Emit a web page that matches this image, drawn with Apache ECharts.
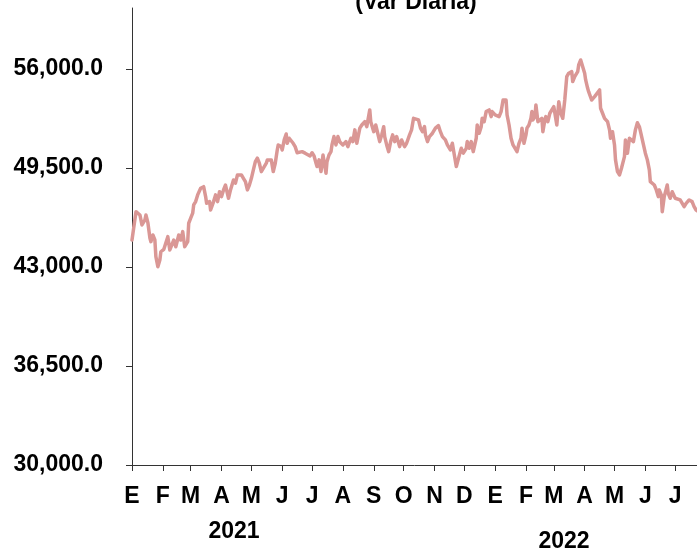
<!DOCTYPE html>
<html>
<head>
<meta charset="utf-8">
<script src="https://cdn.jsdelivr.net/npm/echarts@6/dist/echarts.min.js"></script>
<style>
html,body{margin:0;padding:0;background:#fff;}
#chart{width:697px;height:552px;}
</style>
</head>
<body>
<div id="chart"></div>
<script>
// ---- data ----
var title = '(Var Diaria)';
var monthLetters = ['E','F','M','A','M','J','J','A','S','O','N','D'];
var yTicks = [30000, 36500, 43000, 49500, 56000];
var yearLabels = ['2021', '2022'];

var dates2021 = [
 '2021-01-01','2021-01-05','2021-01-07','2021-01-09','2021-01-11','2021-01-14','2021-01-15','2021-01-17','2021-01-19','2021-01-20','2021-01-22','2021-01-24','2021-01-25','2021-01-27','2021-01-29','2021-01-30',
 '2021-02-02','2021-02-04','2021-02-06','2021-02-08','2021-02-10','2021-02-12','2021-02-14','2021-02-17','2021-02-19','2021-02-21','2021-02-23','2021-02-26','2021-02-27',
 '2021-03-01','2021-03-03','2021-03-04','2021-03-06','2021-03-08','2021-03-11','2021-03-14','2021-03-16','2021-03-17','2021-03-20','2021-03-21','2021-03-24','2021-03-26','2021-03-28','2021-03-30',
 '2021-04-01','2021-04-03','2021-04-05','2021-04-08','2021-04-10','2021-04-13','2021-04-15','2021-04-17','2021-04-19','2021-04-21','2021-04-23','2021-04-25','2021-04-27','2021-04-29',
 '2021-05-01','2021-05-03','2021-05-05','2021-05-07','2021-05-09','2021-05-11','2021-05-13','2021-05-16','2021-05-17','2021-05-19','2021-05-21','2021-05-23','2021-05-25','2021-05-27','2021-05-28','2021-05-31',
 '2021-06-01','2021-06-03','2021-06-05','2021-06-06','2021-06-08','2021-06-10','2021-06-12','2021-06-14','2021-06-16','2021-06-18','2021-06-21','2021-06-24','2021-06-26','2021-06-29',
 '2021-07-01','2021-07-03','2021-07-05','2021-07-06','2021-07-08','2021-07-10','2021-07-12','2021-07-15','2021-07-16','2021-07-18','2021-07-20','2021-07-21','2021-07-23','2021-07-25','2021-07-27','2021-07-29',
 '2021-08-01','2021-08-04','2021-08-06','2021-08-09','2021-08-11','2021-08-13','2021-08-15','2021-08-18','2021-08-20','2021-08-23','2021-08-25','2021-08-28','2021-08-29',
 '2021-09-01','2021-09-03','2021-09-05','2021-09-07','2021-09-09','2021-09-11','2021-09-12','2021-09-14','2021-09-16','2021-09-18','2021-09-20','2021-09-22','2021-09-24','2021-09-27','2021-09-29',
 '2021-10-02','2021-10-04','2021-10-07','2021-10-09','2021-10-11','2021-10-13','2021-10-16','2021-10-18','2021-10-20','2021-10-22','2021-10-23','2021-10-25','2021-10-27','2021-10-30',
 '2021-11-02','2021-11-05','2021-11-07','2021-11-09','2021-11-12','2021-11-14','2021-11-16','2021-11-17','2021-11-19','2021-11-21','2021-11-23','2021-11-25','2021-11-27','2021-11-28','2021-11-30',
 '2021-12-03','2021-12-04','2021-12-06','2021-12-08','2021-12-10','2021-12-13','2021-12-14','2021-12-16','2021-12-18','2021-12-19','2021-12-21','2021-12-23','2021-12-26','2021-12-28','2021-12-29'
];
var values2021 = [
 44770,46630,46740,46410,45760,46090,46410,45890,44900,44660,45100,44770,43680,43020,43460,44000,
 44160,44120,44990,44120,44100,44770,44330,45100,44770,45320,44330,44660,45870,
 46200,46530,47070,47290,47730,48170,48270,47620,47180,47290,46740,47290,47730,47290,47940,
 47620,48060,48380,47510,48060,48710,48500,49040,49150,49040,48820,48600,48060,48380,
 48820,49370,49910,50140,49810,49260,49370,49810,50030,49910,50030,49260,49810,50680,51010,50900,
 50680,51340,51730,51120,51450,51380,51120,50900,50500,50470,50570,50470,50350,50290,
 50500,50290,49810,49590,50030,49260,50350,49150,49910,50350,50570,51010,51560,51010,51560,51200,
 51010,51230,50900,51450,51230,52000,51120,52110,52320,52540,52210,53310,52540,
 51880,52320,51780,51230,51670,52210,51560,51010,50570,51230,51670,51230,51560,50900,51340,
 50900,51120,51670,52000,52760,52870,52650,52110,51880,52210,51670,51230,51560,51780,
 52110,52280,51880,51560,51340,51010,50900,50680,51120,50350,49590,49700,50570,50790,50470,
 50790,51230,50790,51230,50570,51450,52320,51780,52210,52760,52540,53200,53310,52870,53200
];
var dates2022 = [
 '2022-01-01','2022-01-03','2022-01-05','2022-01-07','2022-01-09','2022-01-12','2022-01-13','2022-01-15','2022-01-17','2022-01-19','2022-01-21','2022-01-23','2022-01-25','2022-01-27','2022-01-28','2022-01-30',
 '2022-02-01','2022-02-02','2022-02-04','2022-02-06','2022-02-07','2022-02-08','2022-02-10','2022-02-11','2022-02-13','2022-02-15','2022-02-17','2022-02-18','2022-02-20','2022-02-21','2022-02-23','2022-02-25','2022-02-27',
 '2022-03-01','2022-03-04','2022-03-06','2022-03-08','2022-03-10','2022-03-12','2022-03-14','2022-03-16','2022-03-19','2022-03-20','2022-03-22','2022-03-25','2022-03-26','2022-03-28','2022-03-30',
 '2022-04-01','2022-04-02','2022-04-04','2022-04-05','2022-04-08','2022-04-11','2022-04-13','2022-04-16','2022-04-17','2022-04-19','2022-04-21','2022-04-24','2022-04-26','2022-04-27','2022-04-29',
 '2022-05-01','2022-05-02','2022-05-04','2022-05-06','2022-05-08','2022-05-11','2022-05-12','2022-05-14','2022-05-16','2022-05-18','2022-05-20','2022-05-22','2022-05-24','2022-05-26','2022-05-29',
 '2022-06-01','2022-06-03','2022-06-05','2022-06-06','2022-06-10','2022-06-12','2022-06-14','2022-06-15','2022-06-17','2022-06-18','2022-06-20','2022-06-23','2022-06-24','2022-06-26','2022-06-28',
 '2022-07-01','2022-07-03','2022-07-06','2022-07-08','2022-07-10','2022-07-12','2022-07-15','2022-07-18','2022-07-20','2022-07-22','2022-07-25'
];
var values2022 = [
 52980,53090,52870,53200,53960,53960,52980,52320,51450,51010,50900,50570,51120,51450,52110,51120,
 51670,52110,52320,52760,53200,52650,52870,53640,52540,52430,52760,51880,52650,52870,52540,53090,53200,
 53520,52320,53850,53090,52760,53960,55490,55720,55820,55170,55490,55820,56260,56590,56480,
 55720,55280,54730,54510,53960,54180,54080,54620,53420,53090,52760,52540,52000,51450,51880,
 51010,50030,49260,49040,49480,50240,51340,50470,51450,51520,51230,52000,52470,52210,51340,
 50470,50030,49370,48600,48380,48060,47620,48060,47730,46630,47620,48380,47840,47510,47940,
 47510,47620,47400,47510,46960,47180,47400,47290,46960,46740,46610
];

// ---- build ----
function toTime(s) {
  var p = s.split('-');
  return new Date(+p[0], +p[1] - 1, +p[2]).getTime();
}
var dates = dates2021.concat(dates2022);
var values = values2021.concat(values2022);
var seriesData = dates.map(function(d, i){ return [toTime(d), values[i]]; });

var monthStarts = [];
for (var m = 0; m < 19; m++) {
  monthStarts.push(new Date(2021, m, 1).getTime());
}

var FONT = '"Liberation Sans", Arial, Helvetica, sans-serif';
var FS = 23;
var chart = echarts.init(document.getElementById('chart'), null, {renderer: 'canvas'});
var option = {
  animation: false,
  backgroundColor: '#ffffff',
  grid: { left: 132, top: 8, right: 0, bottom: 87, containLabel: false },
  xAxis: {
    type: 'value',
    min: new Date(2021, 0, 1).getTime(),
    max: new Date(2022, 6, 22, 22).getTime(),
    axisLine: { show: true, lineStyle: { color: '#333333', width: 1 } },
    axisTick: { show: true, customValues: monthStarts, length: 6, inside: false, lineStyle: { color: '#333333', width: 1 } },
    axisLabel: {
      customValues: monthStarts,
      formatter: function (v) { return monthLetters[new Date(v).getMonth()]; },
      fontSize: FS, fontWeight: 'bold', fontFamily: FONT, color: '#000000', margin: 20,
      hideOverlap: false, showMinLabel: true, showMaxLabel: true
    },
    splitLine: { show: false }
  },
  yAxis: {
    type: 'value',
    min: 30000,
    max: 60000,
    axisLine: { show: true, lineStyle: { color: '#333333', width: 1 } },
    axisTick: { show: true, customValues: yTicks, length: 6, lineStyle: { color: '#333333', width: 1 } },
    axisLabel: {
      customValues: yTicks,
      formatter: function (v) {
        return v.toLocaleString('en-US', { minimumFractionDigits: 1, maximumFractionDigits: 1 });
      },
      fontSize: FS, fontWeight: 'bold', fontFamily: FONT, color: '#000000', margin: 29
    },
    splitLine: { show: false }
  },
  series: [{
    type: 'line',
    data: seriesData,
    showSymbol: false,
    symbol: 'none',
    smooth: false,
    clip: true,
    lineStyle: { color: '#da9795', width: 3.5, join: 'round', cap: 'round' },
    z: 3
  }],
  graphic: [
    { type: 'text', x: 416, y: 3, style: { text: title, fill: '#000', font: 'bold ' + FS + 'px ' + FONT, textAlign: 'center', textVerticalAlign: 'middle' } },
    { type: 'text', x: 234, y: 532, style: { text: yearLabels[0], fill: '#000', font: 'bold ' + FS + 'px ' + FONT, textAlign: 'center', textVerticalAlign: 'middle' } },
    { type: 'text', x: 564, y: 542, style: { text: yearLabels[1], fill: '#000', font: 'bold ' + FS + 'px ' + FONT, textAlign: 'center', textVerticalAlign: 'middle' } }
  ]
};
chart.setOption(option);
</script>
</body>
</html>
